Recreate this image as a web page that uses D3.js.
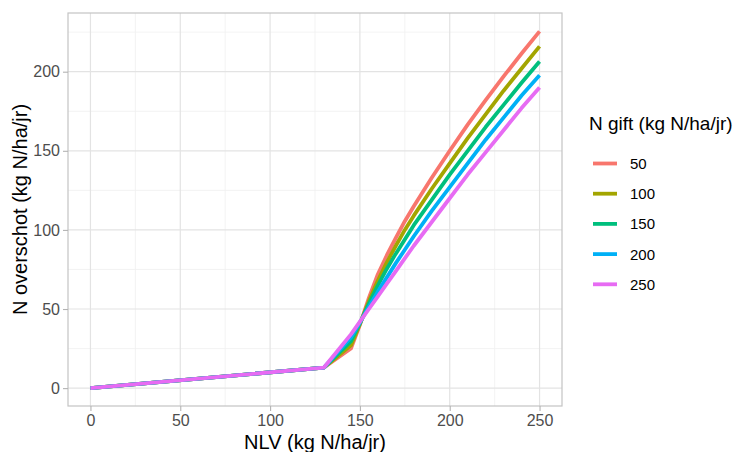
<!DOCTYPE html>
<html>
<head>
<meta charset="utf-8">
<script src="https://cdn.jsdelivr.net/npm/d3@7"></script>
<style>
  body { margin: 0; background: #fff; }
  svg { font-family: "Liberation Sans", Arial, sans-serif; }
</style>
</head>
<body>
<svg width="739" height="452"></svg>
<script>
// NLV punten (x-as)
const nlv = [0, 130, 145, 150, 155, 160, 165, 170, 175, 180, 190, 200, 210, 220, 230, 240, 250];

// N overschot per N gift
const gift50  = [0, 13, 25, 40, 57, 72, 84, 95, 105.5, 115, 133, 150, 166.5, 182, 197, 211.5, 225.5];
const gift100 = [0, 13, 27, 40.5, 55, 68, 79.5, 90, 100, 109, 126, 142, 158, 173, 188, 202, 216];
const gift150 = [0, 13, 29.5, 41, 53.5, 65, 75.5, 85, 94, 103, 119, 135, 150, 165, 179, 193, 206.5];
const gift200 = [0, 13, 32, 41.5, 51.5, 61, 70, 79, 87.5, 96, 112, 127, 142, 157, 171, 185, 197.7];
const gift250 = [0, 13, 34, 42, 50, 58, 66, 74, 82, 90, 105, 120, 135, 149, 163, 177, 190];

const giftLabels = ["50", "100", "150", "200", "250"];
const giftColors = ["#F8766D", "#A3A500", "#00BF7D", "#00B0F6", "#E76BF3"];
const xTicks = [0, 50, 100, 150, 200, 250];
const yTicks = [0, 50, 100, 150, 200];

const series = [gift50, gift100, gift150, gift200, gift250].map((vals, i) => ({
  label: giftLabels[i],
  color: giftColors[i],
  points: nlv.map((x, j) => ({x: x, y: vals[j]}))
}));

const svg = d3.select("svg");
const pLeft = 68, pRight = 562, pTop = 13, pBottom = 406;

// 5% uitbreiding zoals ggplot
const x = d3.scaleLinear().domain([-12.5, 262.5]).range([pLeft, pRight]);
const y = d3.scaleLinear().domain([-11.3, 237.1]).range([pBottom, pTop]);

// minor grid
const xMinor = [25, 75, 125, 175, 225];
const yMinor = [25, 75, 125, 175, 225];
svg.append("g").selectAll("line").data(xMinor).join("line")
  .attr("x1", d => x(d)).attr("x2", d => x(d)).attr("y1", pTop).attr("y2", pBottom)
  .attr("stroke", "#f0f0f0").attr("stroke-width", 0.8);
svg.append("g").selectAll("line").data(yMinor).join("line")
  .attr("y1", d => y(d)).attr("y2", d => y(d)).attr("x1", pLeft).attr("x2", pRight)
  .attr("stroke", "#f0f0f0").attr("stroke-width", 0.8);

// major grid
svg.append("g").selectAll("line").data(xTicks).join("line")
  .attr("x1", d => x(d)).attr("x2", d => x(d)).attr("y1", pTop).attr("y2", pBottom)
  .attr("stroke", "#e3e3e3").attr("stroke-width", 1.2);
svg.append("g").selectAll("line").data(yTicks).join("line")
  .attr("y1", d => y(d)).attr("y2", d => y(d)).attr("x1", pLeft).attr("x2", pRight)
  .attr("stroke", "#e3e3e3").attr("stroke-width", 1.2);

// lijnen
const line = d3.line().x(d => x(d.x)).y(d => y(d.y));
svg.append("g").selectAll("path").data(series).join("path")
  .attr("d", d => line(d.points))
  .attr("fill", "none")
  .attr("stroke", d => d.color)
  .attr("stroke-width", 3.8)
  .attr("stroke-linejoin", "round");

// paneelrand
svg.append("rect")
  .attr("x", pLeft).attr("y", pTop).attr("width", pRight - pLeft).attr("height", pBottom - pTop)
  .attr("fill", "none").attr("stroke", "#c4c4c4").attr("stroke-width", 1.2);

// assen
const xAxis = svg.append("g").attr("transform", `translate(0,${pBottom})`)
  .call(d3.axisBottom(x).tickValues(xTicks).tickSize(5).tickPadding(4));
const yAxis = svg.append("g").attr("transform", `translate(${pLeft},0)`)
  .call(d3.axisLeft(y).tickValues(yTicks).tickSize(5).tickPadding(3));
[xAxis, yAxis].forEach(a => {
  a.select(".domain").remove();
  a.selectAll(".tick line").attr("stroke", "#b3b3b3").attr("stroke-width", 1.1);
  a.selectAll(".tick text").attr("fill", "#4d4d4d").style("font-size", "16px")
    .style("font-family", "Liberation Sans, Arial, sans-serif");
});

// as-titels
svg.append("text").attr("x", (pLeft + pRight) / 2).attr("y", 449)
  .attr("text-anchor", "middle").style("font-size", "20px").attr("fill", "#000")
  .text("NLV (kg N/ha/jr)");
svg.append("text").attr("transform", `translate(27,${(pTop + pBottom) / 2}) rotate(-90)`)
  .attr("text-anchor", "middle").style("font-size", "20px").attr("fill", "#000")
  .text("N overschot (kg N/ha/jr)");

// legenda
const legend = svg.append("g");
legend.append("text").attr("x", 589).attr("y", 130)
  .style("font-size", "19px").attr("fill", "#000").text("N gift (kg N/ha/jr)");
const rows = legend.selectAll("g.row").data(series).join("g").attr("class", "row")
  .attr("transform", (d, i) => `translate(0,${163.5 + i * 30.2})`);
rows.append("line").attr("x1", 593).attr("x2", 617).attr("y1", 0).attr("y2", 0)
  .attr("stroke", d => d.color).attr("stroke-width", 3.8);
rows.append("text").attr("x", 630).attr("y", 0).attr("dy", "0.36em")
  .style("font-size", "15px").attr("fill", "#000").text(d => d.label);
</script>
</body>
</html>
